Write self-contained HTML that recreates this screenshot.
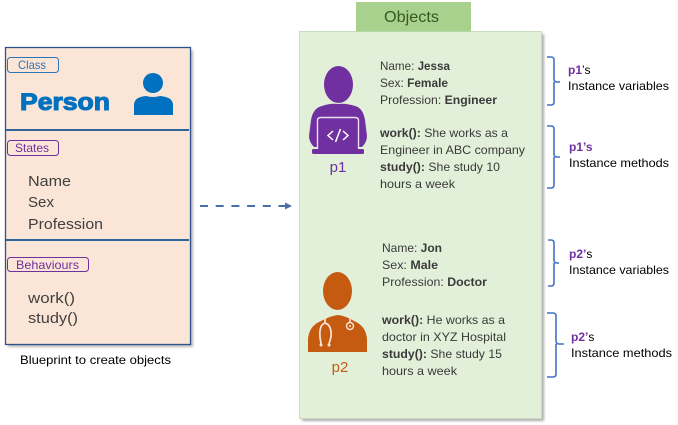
<!DOCTYPE html>
<html>
<head>
<meta charset="utf-8">
<style>
html,body{margin:0;padding:0;background:#fff;}
svg{display:block;}
text{font-family:"Liberation Sans",sans-serif;}
.d{fill:#3a3a3a;font-size:12px;}
.k{fill:#000;font-size:12px;}
.b{font-weight:bold;}
.l{fill:#404040;font-size:15px;}
.br{fill:none;stroke:#4472c4;stroke-width:1.6;}
</style>
</head>
<body>
<svg width="678" height="425" viewBox="0 0 678 425" xmlns="http://www.w3.org/2000/svg">
<defs>
<filter id="s" x="-5%" y="-5%" width="110%" height="110%"><feGaussianBlur stdDeviation="1.2"/></filter>
</defs>
<rect width="678" height="425" fill="#fff"/>

<!-- Left class box -->
<rect x="8" y="50" width="185" height="297" fill="#888" opacity=".6" filter="url(#s)"/>
<rect x="5.500" y="47.500" width="185" height="297" fill="#fbe5d6" stroke="#2f528f" stroke-width="1.300"/>
<line x1="6" y1="130" x2="189" y2="130" stroke="#2e6496" stroke-width="2"/>
<line x1="6" y1="240" x2="189" y2="240" stroke="#2e6496" stroke-width="2"/>

<rect x="7.500" y="57.500" width="51" height="15" rx="3" fill="none" stroke="#2e75b6"/>
<text x="18" y="69" font-size="12" fill="#2e75b6" textLength="28" lengthAdjust="spacingAndGlyphs">Class</text>
<text x="20" y="110" font-size="24" font-weight="bold" fill="#0070c0" stroke="#0070c0" stroke-width="1.100" textLength="90" lengthAdjust="spacingAndGlyphs">Person</text>
<circle cx="153" cy="83" r="10" fill="#0070c0"/>
<path d="M134 115V105Q134 97 146 96Q153 98 160 96Q173 97 173 105V115Z" fill="#0070c0"/>

<rect x="7.500" y="140.500" width="51" height="15" rx="3" fill="none" stroke="#7030a0"/>
<text x="15" y="152" font-size="12" fill="#7030a0" textLength="34" lengthAdjust="spacingAndGlyphs">States</text>
<text class="l" x="28" y="186" textLength="43" lengthAdjust="spacingAndGlyphs">Name</text>
<text class="l" x="28" y="207" textLength="26" lengthAdjust="spacingAndGlyphs">Sex</text>
<text class="l" x="28" y="229" textLength="75" lengthAdjust="spacingAndGlyphs">Profession</text>

<rect x="7.500" y="257.500" width="81" height="14" rx="3" fill="none" stroke="#7030a0"/>
<text x="16" y="269" font-size="12" fill="#7030a0" textLength="63" lengthAdjust="spacingAndGlyphs">Behaviours</text>
<text class="l" x="28" y="303" textLength="47" lengthAdjust="spacingAndGlyphs">work()</text>
<text class="l" x="28" y="323" textLength="50" lengthAdjust="spacingAndGlyphs">study()</text>

<text class="k" x="20" y="364" textLength="151" lengthAdjust="spacingAndGlyphs">Blueprint to create objects</text>

<!-- Arrow -->
<line x1="200" y1="206" x2="285" y2="206" stroke="#4a6ea9" stroke-width="2" stroke-dasharray="8,7.700"/>
<path d="M285 202.500L292 206L285 209.500Z" fill="#4a6ea9"/>

<!-- Objects panel -->
<rect x="302" y="34" width="242" height="387" fill="#777" opacity=".6" filter="url(#s)"/>
<rect x="299.500" y="31.500" width="242" height="387" fill="#e2f0d9" stroke="#c9dcbc" stroke-width="1"/>
<rect x="356" y="2" width="115" height="29.500" fill="#a9d18e"/>
<text x="384" y="22" font-size="16" fill="#385723" textLength="55" lengthAdjust="spacingAndGlyphs">Objects</text>

<!-- p1 icon -->
<ellipse cx="338.500" cy="84.500" rx="14.500" ry="18.500" fill="#7030a0"/>
<path d="M322 106Q330 103 338 104Q346 103 355 106Q363 108 365 120L367 136Q367 142 362 147H314Q309 142 309 136L311 120Q313 108 322 106Z" fill="#7030a0"/>
<path d="M317.500 149V120.500Q317.500 117.500 321 117.500H355Q358.500 117.500 358.500 120.500V149" fill="#7030a0" stroke="#e9dff0" stroke-width="1.400"/>
<rect x="312" y="149" width="52" height="5" rx="1.500" fill="#7030a0"/>
<path d="M333 131L328 135.500L333 140M343 131L348 135.500L343 140M340.500 129L335.500 142" fill="none" stroke="#fff" stroke-width="1.500"/>
<text x="338" y="172" font-size="15" fill="#7030a0" text-anchor="middle">p1</text>

<!-- p1 text -->
<text class="d" x="380" y="70" textLength="70" lengthAdjust="spacingAndGlyphs">Name: <tspan class="b">Jessa</tspan></text>
<text class="d" x="380" y="87" textLength="68" lengthAdjust="spacingAndGlyphs">Sex: <tspan class="b">Female</tspan></text>
<text class="d" x="380" y="104" textLength="117" lengthAdjust="spacingAndGlyphs">Profession: <tspan class="b">Engineer</tspan></text>
<text class="d" x="380" y="137" textLength="128" lengthAdjust="spacingAndGlyphs"><tspan class="b">work():</tspan> She works as a</text>
<text class="d" x="380" y="154" textLength="145" lengthAdjust="spacingAndGlyphs">Engineer in ABC company</text>
<text class="d" x="380" y="171" textLength="120" lengthAdjust="spacingAndGlyphs"><tspan class="b">study():</tspan> She study 10</text>
<text class="d" x="380" y="188" textLength="75" lengthAdjust="spacingAndGlyphs">hours a week</text>

<!-- p2 icon -->
<ellipse cx="337.500" cy="291" rx="14.500" ry="19" fill="#c55a11"/>
<path d="M308 352V339Q309 326 321 321Q330 316 338 315Q346 316 354 321Q366 326 367 339V352Z" fill="#c55a11"/>
<path d="M325 317V323Q319 325 320 337L321 344M325 323Q332 325 331 337L329 344" fill="none" stroke="#fbe5d6" stroke-width="1.700"/>
<circle cx="321" cy="345" r="1.500" fill="#fbe5d6"/>
<circle cx="329" cy="345" r="1.500" fill="#fbe5d6"/>
<path d="M350 316V322" fill="none" stroke="#fbe5d6" stroke-width="1.500"/>
<circle cx="350" cy="326" r="3.500" fill="none" stroke="#fbe5d6" stroke-width="1.400"/>
<circle cx="350" cy="326" r="1" fill="#fbe5d6"/>
<text x="340" y="372" font-size="15" fill="#c55a11" text-anchor="middle">p2</text>

<!-- p2 text -->
<text class="d" x="382" y="252" textLength="60" lengthAdjust="spacingAndGlyphs">Name: <tspan class="b">Jon</tspan></text>
<text class="d" x="382" y="269" textLength="56" lengthAdjust="spacingAndGlyphs">Sex: <tspan class="b">Male</tspan></text>
<text class="d" x="382" y="286" textLength="105" lengthAdjust="spacingAndGlyphs">Profession: <tspan class="b">Doctor</tspan></text>
<text class="d" x="382" y="324" textLength="123" lengthAdjust="spacingAndGlyphs"><tspan class="b">work():</tspan> He works as a</text>
<text class="d" x="382" y="341" textLength="124" lengthAdjust="spacingAndGlyphs">doctor in XYZ Hospital</text>
<text class="d" x="382" y="358" textLength="120" lengthAdjust="spacingAndGlyphs"><tspan class="b">study():</tspan> She study 15</text>
<text class="d" x="382" y="375" textLength="75" lengthAdjust="spacingAndGlyphs">hours a week</text>

<!-- Braces -->
<path class="br" d="M547 57H551Q554 57 554 60V79Q554 82 557 82H560M554 82V102Q554 105 551 105H547"/>
<path class="br" d="M547 126H551Q554 126 554 129V154Q554 157 557 157H560M554 157V185Q554 188 551 188H547"/>
<path class="br" d="M548 240H551Q554 240 554 243V260Q554 263 557 263H559M554 263V283Q554 286 551 286H548"/>
<path class="br" d="M547 313H553Q556 313 556 316V341Q556 344 559 344H564M556 344V374Q556 377 553 377H547"/>

<!-- Right labels -->
<text class="k" x="568" y="74"><tspan class="b" style="fill:#7030a0">p1</tspan>’s</text>
<text class="k" x="568" y="90" textLength="101" lengthAdjust="spacingAndGlyphs">Instance variables</text>
<text class="k b" x="569" y="151" style="fill:#7030a0">p1’s</text>
<text class="k" x="569" y="167" textLength="100" lengthAdjust="spacingAndGlyphs">Instance methods</text>
<text class="k" x="569" y="258"><tspan class="b" style="fill:#7030a0">p2’</tspan>s</text>
<text class="k" x="569" y="274" textLength="100" lengthAdjust="spacingAndGlyphs">Instance variables</text>
<text class="k" x="571" y="341"><tspan class="b" style="fill:#7030a0">p2’</tspan>s</text>
<text class="k" x="571" y="357" textLength="101" lengthAdjust="spacingAndGlyphs">Instance methods</text>
</svg>
</body>
</html>
